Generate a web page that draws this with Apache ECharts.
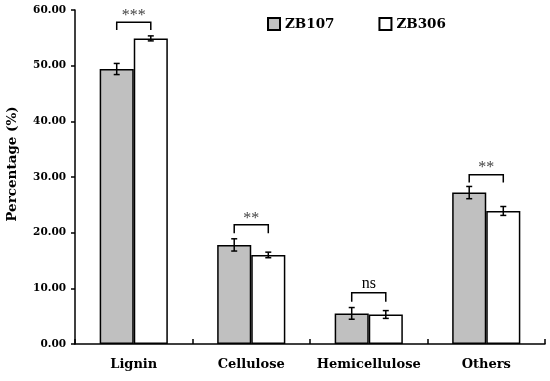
<!DOCTYPE html>
<html><head><meta charset="utf-8">
<script src="https://cdn.jsdelivr.net/npm/echarts@6/dist/echarts.min.js"></script>
<style>html,body{margin:0;padding:0;background:#fff}#c{width:550px;height:381px}</style>
</head><body><div id="c"></div>
<script>
const categories = ['Lignin', 'Cellulose', 'Hemicellulose', 'Others'];
const seriesNames = ['ZB107', 'ZB306'];
const zb107 = [49.4, 17.8, 5.5, 27.2];
const zb306 = [54.9, 16.0, 5.3, 23.9];
const zb107Err = [1.0, 1.1, 1.05, 1.1];
const zb306Err = [0.45, 0.5, 0.7, 0.8];
const sigLabels = ['***', '**', 'ns', '**'];
const sigBracketTop = [57.8, 21.4, 9.2, 30.4];
const sigBracketLeg = [56.4, 19.9, 7.6, 29.0];
const yMin = 0, yMax = 60, yInterval = 10;
const yTitle = 'Percentage (%)';

const BAR_FRAC = 0.29;
const FONT = 'DejaVu Serif';
const chart = echarts.init(document.getElementById('c'), null, {renderer: 'canvas'});

function errRender(sign) {
  return function (params, api) {
    const band = api.size([1, 0])[0];
    const w = band * BAR_FRAC;
    const v = api.value(1), e = api.value(2);
    const pt = api.coord([api.value(0), v + e]);
    const pb = api.coord([api.value(0), v - e]);
    const x = pt[0] + sign * w / 2;
    const cap = 3;
    const st = {stroke: '#000', lineWidth: 1.5};
    return {type: 'group', children: [
      {type: 'line', shape: {x1: x, y1: pt[1], x2: x, y2: pb[1]}, style: st},
      {type: 'line', shape: {x1: x - cap, y1: pt[1], x2: x + cap, y2: pt[1]}, style: st},
      {type: 'line', shape: {x1: x - cap, y1: pb[1], x2: x + cap, y2: pb[1]}, style: st}
    ]};
  };
}

function bracketRender(params, api) {
  const i = params.dataIndex;
  const band = api.size([1, 0])[0];
  const w = band * BAR_FRAC;
  const top = api.coord([api.value(0), api.value(1)]);
  const leg = api.coord([api.value(0), api.value(2)]);
  const xl = top[0] - w / 2, xr = top[0] + w / 2;
  const lab = sigLabels[i];
  const isNs = lab === 'ns';
  return {type: 'group', children: [
    {type: 'polyline', shape: {points: [[xl, leg[1]], [xl, top[1]], [xr, top[1]], [xr, leg[1]]]},
     style: {stroke: '#000', lineWidth: 1.5, fill: null}},
    {type: 'text', style: {text: lab, x: top[0], y: top[1] + (isNs ? -1 : 1.5),
      textAlign: 'center', textVerticalAlign: 'bottom',
      font: '16px "Liberation Serif"',
      fill: isNs ? '#000' : '#444'}}
  ]};
}

chart.setOption({
  animation: false,
  backgroundColor: '#fff',
  grid: {left: 75, right: 5, top: 10, bottom: 37},
  legend: {
    data: seriesNames, left: 267, top: 17, padding: 0, itemWidth: 12, itemHeight: 12, itemGap: 44,
    icon: 'rect',
    textStyle: {fontFamily: FONT, fontWeight: 'bold', fontSize: 13.5, color: '#000'}
  },
  xAxis: {
    type: 'category', data: categories, boundaryGap: true,
    axisLine: {lineStyle: {color: '#000', width: 1.5}},
    axisTick: {show: true, inside: true, length: 5, alignWithLabel: false, interval: 0, lineStyle: {color: '#000', width: 1.5}},
    axisLabel: {interval: 0, margin: 14, fontFamily: FONT, fontWeight: 'bold', fontSize: 13, color: '#000'}
  },
  yAxis: {
    type: 'value', min: yMin, max: yMax, interval: yInterval,
    axisLine: {show: true, lineStyle: {color: '#000', width: 1.5}},
    axisTick: {show: true, length: 4, lineStyle: {color: '#000', width: 1.5}},
    splitLine: {show: false},
    axisLabel: {margin: 9, fontFamily: FONT, fontWeight: 'bold', fontSize: 10.5, color: '#000',
      formatter: v => v.toFixed(2)}
  },
  graphic: [{
    type: 'text', rotation: Math.PI / 2,
    x: 12, y: 164,
    style: {text: yTitle, font: 'bold 13.5px "DejaVu Serif"', fill: '#000', textAlign: 'center', textVerticalAlign: 'middle'}
  }],
  series: [
    {name: seriesNames[0], type: 'bar', data: zb107, barWidth: (BAR_FRAC * 100) + '%', barGap: '0%',
     itemStyle: {color: '#c0c0c0', borderColor: '#000', borderWidth: 1.5}},
    {name: seriesNames[1], type: 'bar', data: zb306, barWidth: (BAR_FRAC * 100) + '%', barGap: '0%',
     itemStyle: {color: '#ffffff', borderColor: '#000', borderWidth: 1.5}},
    {type: 'custom', renderItem: errRender(-1), z: 5,
     data: categories.map((c, i) => [i, zb107[i], zb107Err[i]])},
    {type: 'custom', renderItem: errRender(1), z: 5,
     data: categories.map((c, i) => [i, zb306[i], zb306Err[i]])},
    {type: 'custom', renderItem: bracketRender, z: 5,
     data: categories.map((c, i) => [i, sigBracketTop[i], sigBracketLeg[i]])}
  ]
});
</script></body></html>
